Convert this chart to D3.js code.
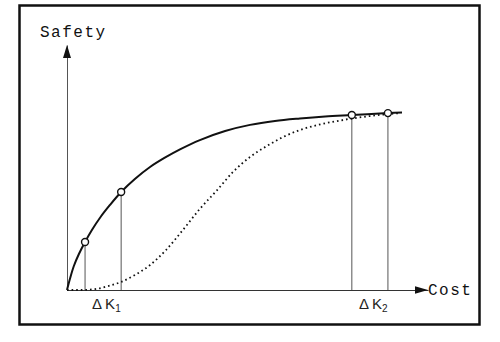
<!DOCTYPE html>
<html>
<head>
<meta charset="utf-8">
<script src="https://cdn.jsdelivr.net/npm/d3@7"></script>
<style>
  body { margin: 0; background: #fff; }
  svg { display: block; }
</style>
</head>
<body>
<div id="container"></div>
<script>
var width = 500,
    height = 342;

// cost (x) and safety (y), both on a 0..100 scale
var solidCost   = [0, 0.8, 1.9, 3.3, 5.0, 6.9, 9.1, 11.9, 15.0, 18.8, 23.0, 27.1, 31.3, 36.8, 43.8, 50.7, 57.6, 64.5, 71.5, 78.9, 88.9, 92.8];
var solidSafety = [0, 4.5, 9.8, 14.7, 19.6, 24.5, 29.4, 34.7, 40.0, 45.3, 50.2, 54.0, 57.4, 61.2, 64.9, 67.4, 69.0, 70.0, 70.8, 71.4, 72.2, 72.4];

var dotCost   = [0, 3.6, 7.8, 11.4, 15.0, 18.8, 23.0, 27.4, 32.1, 36.8, 41.6, 46.0, 50.7, 55.4, 59.8, 64.5, 69.3, 76.5, 83.9, 92.2];
var dotSafety = [0, 0, 0.4, 1.6, 3.3, 6.1, 10.2, 16.3, 24.5, 33.1, 40.8, 48.2, 54.3, 58.8, 62.4, 65.3, 67.3, 69.4, 71.0, 72.2];

// marked points on the solid curve
var markCost   = [5.0, 15.0, 78.9, 88.9];
var markSafety = [19.6, 40.0, 71.4, 72.2];

// ΔK labels: pairs of marked points
var deltaLabels = ["1", "2"];
var deltaPairs  = [[0, 1], [2, 3]];

var svg = d3.select("#container")
    .append("svg")
    .attr("width", width)
    .attr("height", height);

// frame
svg.append("rect")
    .attr("x", 19.5).attr("y", 5.5)
    .attr("width", 460).attr("height", 319)
    .attr("fill", "none")
    .attr("stroke", "#111")
    .attr("stroke-width", 2.5);

var x = d3.scaleLinear().domain([0, 100]).range([67, 428]);
var y = d3.scaleLinear().domain([0, 100]).range([290, 45]);

// axes with no ticks, just the lines
svg.append("g")
    .attr("transform", "translate(0," + y(0) + ")")
    .call(d3.axisBottom(x).tickValues([]).tickSizeOuter(0))
    .select(".domain").attr("stroke", "#333").attr("stroke-width", 1.2);

svg.append("g")
    .attr("transform", "translate(" + x(0) + ",0)")
    .call(d3.axisLeft(y).tickValues([]).tickSizeOuter(0))
    .select(".domain").attr("stroke", "#555").attr("stroke-width", 1);

// arrow heads
var xTip = x.range()[1], yTip = y.range()[1];
svg.append("path")
    .attr("d", "M" + xTip + "," + y(0) + "L" + (xTip - 13) + "," + (y(0) - 3.8) + "L" + (xTip - 13) + "," + (y(0) + 3.8) + "Z")
    .attr("fill", "#111");
svg.append("path")
    .attr("d", "M" + x(0) + "," + yTip + "L" + (x(0) - 4) + "," + (yTip + 13) + "L" + (x(0) + 4) + "," + (yTip + 13) + "Z")
    .attr("fill", "#111");

// axis titles
svg.append("text")
    .attr("x", 40).attr("y", 37)
    .attr("font-family", "Liberation Mono, DejaVu Sans Mono, monospace")
    .attr("font-size", 16)
    .attr("letter-spacing", 1.5)
    .attr("fill", "#111")
    .text("Safety");

svg.append("text")
    .attr("x", xTip).attr("y", y(0) + 5)
    .attr("font-family", "Liberation Mono, DejaVu Sans Mono, monospace")
    .attr("font-size", 16)
    .attr("letter-spacing", 1.5)
    .attr("fill", "#111")
    .text("Cost");

// vertical drop lines
svg.selectAll(".drop")
    .data(markCost)
    .enter().append("line")
    .attr("class", "drop")
    .attr("x1", function(d) { return x(d); })
    .attr("x2", function(d) { return x(d); })
    .attr("y1", function(d, i) { return y(markSafety[i]); })
    .attr("y2", y(0))
    .attr("stroke", "#555")
    .attr("stroke-width", 1);

var line = d3.line()
    .x(function(d) { return x(d[0]); })
    .y(function(d) { return y(d[1]); });

// dotted curve
svg.append("path")
    .attr("d", line.curve(d3.curveMonotoneX)(d3.zip(dotCost, dotSafety)))
    .attr("fill", "none")
    .attr("stroke", "#111")
    .attr("stroke-width", 1.8)
    .attr("stroke-dasharray", "1.6,3");

// solid curve
svg.append("path")
    .attr("d", line.curve(d3.curveCatmullRom.alpha(0.5))(d3.zip(solidCost, solidSafety)))
    .attr("fill", "none")
    .attr("stroke", "#111")
    .attr("stroke-width", 2);

// marked points
svg.selectAll(".mark")
    .data(markCost)
    .enter().append("circle")
    .attr("class", "mark")
    .attr("cx", function(d) { return x(d); })
    .attr("cy", function(d, i) { return y(markSafety[i]); })
    .attr("r", 3.5)
    .attr("fill", "#fff")
    .attr("stroke", "#111")
    .attr("stroke-width", 1.4);

// ΔK labels below the axis
var lab = svg.selectAll(".dk")
    .data(deltaLabels)
    .enter().append("text")
    .attr("class", "dk")
    .attr("x", function(d, i) {
        var p = deltaPairs[i];
        return (x(markCost[p[0]]) + x(markCost[p[1]])) / 2 - 11;
    })
    .attr("y", 309)
    .attr("font-family", "Liberation Sans, Arial, sans-serif")
    .attr("font-size", 15)
    .attr("fill", "#222");

lab.append("tspan").text("\u0394\u2009K");
lab.append("tspan")
    .attr("font-size", 10)
    .attr("dy", 3)
    .text(function(d) { return d; });
</script>
</body>
</html>
